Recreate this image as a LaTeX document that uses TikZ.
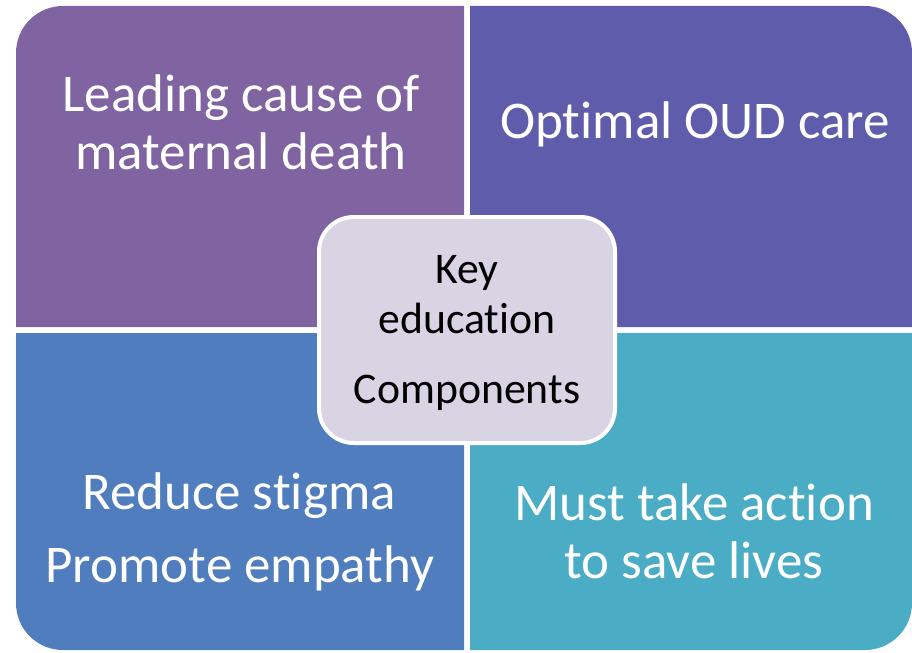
\documentclass[tikz,border=0pt]{standalone}
\usepackage{fontspec}
\setmainfont{Carlito}[Ligatures=NoCommon]

\definecolor{quadpurple}{RGB}{128,100,162}
\definecolor{quadindigo}{RGB}{96,92,172}
\definecolor{quadblue}{RGB}{80,125,189}
\definecolor{quadaqua}{RGB}{75,172,198}
\definecolor{hublilac}{RGB}{216,212,228}

\tikzset{every picture/.style={line width=0.8pt}}
\tikzset{
  quadtext/.style={anchor=base, inner sep=0.75pt, text=white, font=\fontsize{39.75}{47}\selectfont},
  hubtext/.style={anchor=base, inner sep=0.75pt, text=black, font=\fontsize{32.8}{39}\selectfont}
}

\begin{document}
\begin{tikzpicture}[x=0.75pt,y=0.75pt,yscale=-1, xscale=1]
\useasboundingbox (0,0) rectangle (912,652);

%Shape: Rect, top left corner rounded
\fill [quadpurple] (16,327) -- (16,53) .. controls (16,27) and (37,6) .. (63,6) -- (464,6) -- (464,327) -- cycle ;
%Shape: Rect, top right corner rounded
\fill [quadindigo] (470,327) -- (470,6) -- (865,6) .. controls (891,6) and (912,27) .. (912,53) -- (912,327) -- cycle ;
%Shape: Rect, bottom left corner rounded
\fill [quadblue] (16,333) -- (464,333) -- (464,650) -- (63,650) .. controls (37,650) and (16,629) .. (16,603) -- cycle ;
%Shape: Rect, bottom right corner rounded
\fill [quadaqua] (470,333) -- (912,333) -- (912,603) .. controls (912,629) and (891,650) .. (865,650) -- (470,650) -- cycle ;

%Shape: Rounded Rect
\draw [draw=white, line width=3pt, fill=hublilac, rounded corners=26pt] (319,217) rectangle (615,443) ;

% Text Node
\draw (241,112) node (lead) [quadtext] {Leading cause of};
% Text Node
\draw (241,170) node (death) [quadtext] {maternal death};
% Text Node
\draw (695,139) node (oud) [quadtext] {Optimal OUD care};
% Text Node
\draw (239,509) node (stigma) [quadtext] {Reduce stigma};
% Text Node
\draw (240,582) node (empathy) [quadtext] {Promote empathy};
% Text Node
\draw (694,520) node (action) [quadtext] {Must take action};
% Text Node
\draw (694,578) node (lives) [quadtext] {to save lives};
% Text Node
\draw (467,283) node (key) [hubtext] {Key};
% Text Node
\draw (467,333) node (educ) [hubtext] {education};
% Text Node
\draw (467,403) node (comp) [hubtext] {Components};
\end{tikzpicture}
\end{document}
